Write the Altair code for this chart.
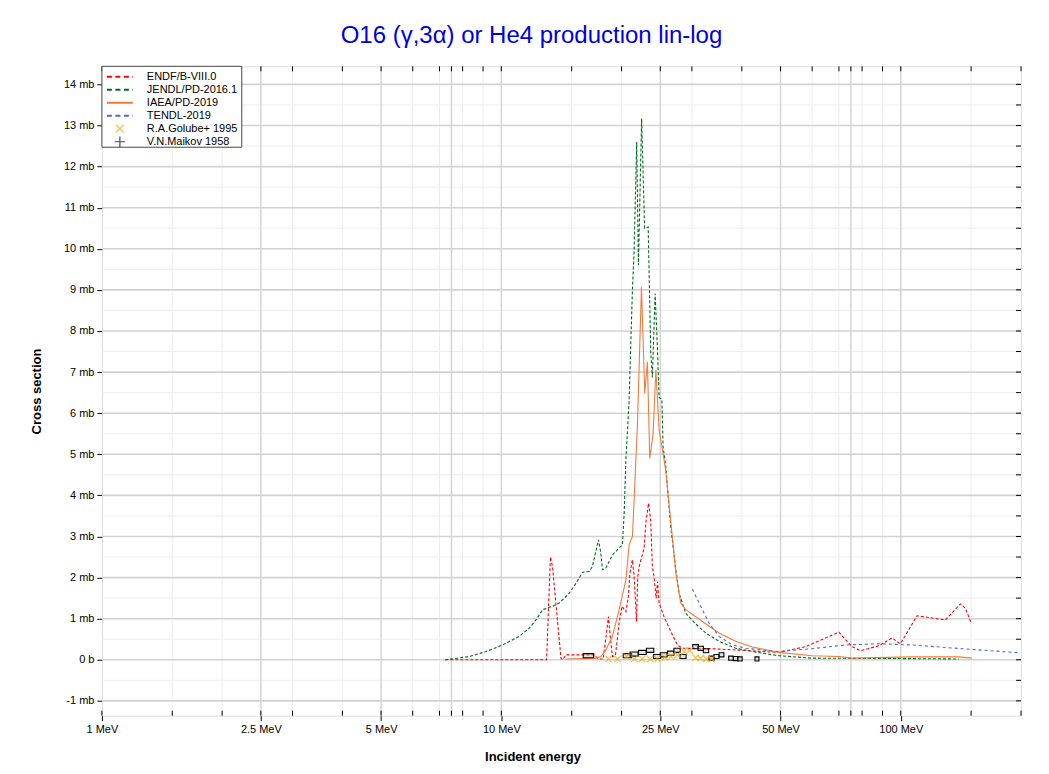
import altair as alt
import pandas as pd

W, H = 920, 650
FONT = "Liberation Sans"

# ---------------- data (energy in MeV, cross section in mb) ----------------
endf_e = [7.24, 12.98, 13.27, 13.43, 14.10, 14.25, 14.50, 17.08, 17.48, 17.99, 18.31, 18.54, 18.72,
          18.97, 19.30, 19.72, 20.04, 20.50, 20.80, 20.98, 21.29, 21.51, 21.80, 21.95, 22.13, 22.78,
          23.00, 23.35, 23.66, 23.88, 24.13, 24.41, 24.60, 24.83, 25.55, 26.55, 27.60, 28.40, 33.70,
          49.5, 57.8, 70.0, 75.5, 79.3, 88.1, 95.1, 99.8, 109.8, 129.4, 141.0, 145.0, 150.2]
endf_xs = [0, 0, 2.5, 2.27, 0.04, 0.0, 0.12, 0.12, 0.02, 0.02, 0.6, 1.05, 0.6,
           0.08, 0.1, 0.9, 1.3, 1.17, 1.54, 2.1, 2.43, 2.0, 0.93, 2.0, 2.27, 2.72,
           3.32, 3.81, 3.4, 2.27, 2.0, 1.5, 1.9, 1.38, 1.05, 0.69, 0.36, 0.28, 0.27,
           0.18, 0.32, 0.67, 0.32, 0.22, 0.34, 0.53, 0.39, 1.07, 0.97, 1.36, 1.26, 0.89]

jendl_e = [7.24, 8.32, 9.16, 10.07, 11.09, 11.75, 12.21, 12.69, 13.43, 13.96, 14.79, 15.38, 15.97,
           16.6, 16.9, 17.51, 17.75, 17.91, 18.27, 18.97, 19.72, 20.1, 20.3, 20.5, 20.89, 21.09,
           21.29, 21.5, 21.82, 22.04, 22.45, 22.84, 23.31, 23.66, 23.88, 24.27, 24.6, 24.83, 25.23,
           25.4, 25.8, 26.55, 27.35, 27.86, 28.95, 30.68, 32.5, 35.08, 38.6, 45.0, 49.5, 59.9,
           98.6, 139.6]
jendl_xs = [0, 0.08, 0.2, 0.36, 0.57, 0.77, 0.97, 1.22, 1.30, 1.38, 1.62, 1.86, 2.13,
            2.15, 2.27, 2.92, 2.59, 2.19, 2.23, 2.55, 2.72, 2.8, 3.57, 4.86, 6.32, 7.7,
            9.0, 9.97, 12.6, 9.6, 13.17, 10.5, 10.53, 7.5, 6.87, 8.91, 7.54, 6.38, 6.34,
            5.19, 4.7, 3.24, 2.19, 1.62, 1.13, 0.87, 0.65, 0.45, 0.28, 0.16, 0.1, 0.04,
            0.03, 0.02]

iaea_e = [14.51, 17.25, 17.75, 18.27, 18.97, 19.72, 20.5, 20.89, 21.29, 21.5, 21.92, 22.43,
          22.86, 23.21, 23.53, 23.99, 24.37, 24.83, 25.23, 25.8, 26.79, 27.35, 28.13, 28.95,
          31.87, 35.08, 38.6, 42.5, 49.5, 60.0, 70.0, 75.5, 106.7, 139.6, 150.7]
iaea_xs = [0.02, 0.04, 0.08, 0.24, 0.57, 1.22, 1.94, 2.8, 3.0, 3.89, 5.75, 9.07,
           6.48, 7.25, 4.9, 5.51, 7.05, 5.59, 5.19, 4.6, 3.0, 2.1, 1.38, 1.22,
           0.93, 0.65, 0.45, 0.31, 0.18, 0.1, 0.08, 0.04, 0.07, 0.07, 0.04]

tendl_e = [30.07, 31.56, 33.1, 35.08, 37.9, 40.9, 49.5, 60.0, 72.7, 88.1, 106.7, 142.3, 198.0]
tendl_xs = [1.72, 1.3, 0.89, 0.57, 0.36, 0.28, 0.2, 0.27, 0.36, 0.39, 0.36, 0.27, 0.17]

golube_e = [18.54, 19.54, 20.57, 21.53, 22.51, 23.58, 24.6, 25.67, 26.6, 27.6, 28.69, 29.6,
            30.64, 31.56, 32.6, 33.6]
golube_xs = [0.02, 0.02, 0.08, 0.02, 0.02, 0.02, 0.02, 0.06, 0.08, 0.12, 0.2, 0.23,
             0.05, 0.04, 0.02, 0.02]

maikov_e = [16.53, 20.69, 21.5, 22.55, 23.58, 24.55, 25.5, 26.55, 27.54, 28.51, 30.64, 31.56,
            32.54, 33.6, 34.57, 35.58, 37.58, 38.6, 39.58, 43.65]
maikov_xs = [0.1, 0.1, 0.14, 0.18, 0.23, 0.08, 0.12, 0.16, 0.23, 0.08, 0.32, 0.28,
             0.22, 0.04, 0.08, 0.12, 0.04, 0.03, 0.02, 0.02]
maikov_de = 0.5     # MeV half-width of energy bins
maikov_dxs = 0.05   # mb half-height of error boxes

x_label_vals = [1, 2.5, 5, 10, 25, 50, 100]
x_grid_major = [2.5, 5, 7.5, 10, 25, 50, 75, 100]
x_grid_minor = [1.5, 2, 3, 4, 6, 7, 8, 9, 15, 20, 30, 40, 60, 70, 80, 90, 150, 200]
y_major = list(range(-1, 15))
y_minor = [v + 0.5 for v in range(-1, 14)]

series = [
    ("ENDF/B-VIII.0", "#ff0000", [3, 2], endf_e, endf_xs),
    ("JENDL/PD-2016.1", "#006a1a", [3, 2], jendl_e, jendl_xs),
    ("IAEA/PD-2019", "#f47a3c", None, iaea_e, iaea_xs),
    ("TENDL-2019", "#4169e1", [3, 3], tendl_e, tendl_xs),
]

# ---------------- scales & axes (identical in every layer so they merge) ----------------
xscale = alt.Scale(type="log", domain=[1, 200], nice=False)
yscale = alt.Scale(domain=[-1.36, 14.44], nice=False, zero=False)

x_axis = alt.Axis(values=x_label_vals, labelExpr="datum.value + ' MeV'", grid=False, domain=False,
                  tickSize=5, tickColor="black", labelPadding=3, labelFontSize=11, labelFont=FONT,
                  labelColor="black", title="Incident energy", titleFont=FONT, titleFontSize=13,
                  titleFontWeight="bold", titleColor="black", titleX=431, titleY=41,
                  titleBaseline="middle", titleAlign="center", labelFlush=False, labelOverlap=False)
y_axis = alt.Axis(values=y_major, labelExpr="datum.value == 0 ? '0 b' : datum.value + ' mb'",
                  grid=False, domain=False, tickSize=5, tickColor="black", labelPadding=3,
                  labelFontSize=11, labelFont=FONT, labelColor="black", title="Cross section",
                  titleFont=FONT, titleFontSize=13, titleFontWeight="bold", titleColor="black",
                  titleX=-65, titleY=H / 2, titleAngle=270, titleBaseline="middle",
                  titleAlign="center", labelOverlap=False)


def X(field):
    return alt.X(field, type="quantitative", scale=xscale, axis=x_axis)


def Y(field):
    return alt.Y(field, type="quantitative", scale=yscale, axis=y_axis)


layers = []


def vgrid(vals, color, width):
    df = pd.DataFrame({"E": vals})
    return alt.Chart(df).mark_rule(color=color, strokeWidth=width).encode(
        x=X("E"), y=alt.value(0), y2=alt.value(H))


def hgrid(vals, color, width):
    df = pd.DataFrame({"xs": vals})
    return alt.Chart(df).mark_rule(color=color, strokeWidth=width).encode(
        y=Y("xs"), x=alt.value(0), x2=alt.value(W))


layers += [vgrid(x_grid_minor, "#ededed", 1), hgrid(y_minor, "#ededed", 1),
           vgrid(x_grid_major, "#d2d2d2", 1.4), hgrid(y_major, "#d2d2d2", 1.6)]

# evaluated curves
for name, color, dash, e, xs in series:
    df = pd.DataFrame({"E": e, "xs": xs})
    kw = dict(color=color, strokeWidth=1.1, clip=True)
    if dash:
        kw["strokeDash"] = dash
    layers.append(alt.Chart(df).mark_line(**kw).encode(x=X("E"), y=Y("xs"), order="E:Q"))

# Maikov error boxes
mdf = pd.DataFrame({"E": maikov_e, "xs": maikov_xs})
mdf["E1"] = mdf["E"] - maikov_de
mdf["E2"] = mdf["E"] + maikov_de
mdf["y1"] = mdf["xs"] - maikov_dxs
mdf["y2"] = mdf["xs"] + maikov_dxs
layers.append(alt.Chart(mdf).mark_rect(fill="#bbbbbb", fillOpacity=0.4, stroke="black",
                                       strokeWidth=1.1).encode(
    x=X("E1"), x2="E2:Q", y=Y("y1"), y2="y2:Q"))

# Golube points
XPATH = "M-1,-1L1,1M-1,1L1,-1"
PLUS = "M-1,0L1,0M0,-1L0,1"
gdf = pd.DataFrame({"E": golube_e, "xs": golube_xs})
layers.append(alt.Chart(gdf).mark_point(shape=XPATH, size=40, filled=False, color="#f5a700",
                                        strokeWidth=1.3).encode(x=X("E"), y=Y("xs")))

# inner ticks (bottom, top, right)
tick_e = sorted(set(x_label_vals + x_grid_major + x_grid_minor))
tdf = pd.DataFrame({"E": tick_e})
layers.append(alt.Chart(tdf).mark_rule(color="black", strokeWidth=1).encode(
    x=X("E"), y=alt.value(H - 5), y2=alt.value(H)))
layers.append(alt.Chart(tdf).mark_rule(color="black", strokeWidth=1).encode(
    x=X("E"), y=alt.value(0), y2=alt.value(5)))
rdf = pd.DataFrame({"xs": sorted(y_major + y_minor)})
layers.append(alt.Chart(rdf).mark_rule(color="black", strokeWidth=1).encode(
    y=Y("xs"), x=alt.value(W - 5), x2=alt.value(W)))

# legend
one = pd.DataFrame({"k": [0]})
layers.append(alt.Chart(one).mark_rect(fill="white", stroke="#444444", strokeWidth=1).encode(
    x=alt.value(0), x2=alt.value(140), y=alt.value(0), y2=alt.value(81)))
legend_rows = [(s[0], s[1], s[2]) for s in series] + [("R.A.Golube+ 1995", "#f5a700", "x"),
                                                      ("V.N.Maikov 1958", "black", "+")]
for i, (name, color, kind) in enumerate(legend_rows):
    py = 10.5 + 13 * i
    ldf = pd.DataFrame({"label": [name]})
    if kind == "x":
        layers.append(alt.Chart(ldf).mark_point(shape=XPATH, size=64, filled=False, color=color,
                                                strokeWidth=1.2).encode(
            x=alt.value(18), y=alt.value(py)))
    elif kind == "+":
        layers.append(alt.Chart(ldf).mark_point(shape=PLUS, size=110, filled=False, color=color,
                                                strokeWidth=1.2).encode(
            x=alt.value(18), y=alt.value(py)))
    else:
        kw = dict(color=color, strokeWidth=2)
        if kind:
            kw["strokeDash"] = [5, 3.5]
        layers.append(alt.Chart(ldf).mark_rule(**kw).encode(
            x=alt.value(5), x2=alt.value(31), y=alt.value(py)))
    layers.append(alt.Chart(ldf).mark_text(align="left", baseline="middle", font=FONT,
                                           fontSize=11, color="black").encode(
        x=alt.value(45), y=alt.value(py), text="label:N"))

chart = alt.layer(*layers).properties(
    width=W, height=H,
    title=alt.TitleParams(text="O16 (γ,3α) or He4 production lin-log", font=FONT, fontSize=24,
                          fontWeight="normal", color="#0000dd", anchor="middle", frame="group",
                          dx=-30, offset=18),
    autosize=alt.AutoSizeParams(type="none"),
    padding={"left": 94, "top": 58, "right": 20, "bottom": 48},
).configure_view(stroke="black", strokeWidth=1.5).configure(background="white")

chart.save("out.html", embed_options={"renderer": "svg", "actions": False})
